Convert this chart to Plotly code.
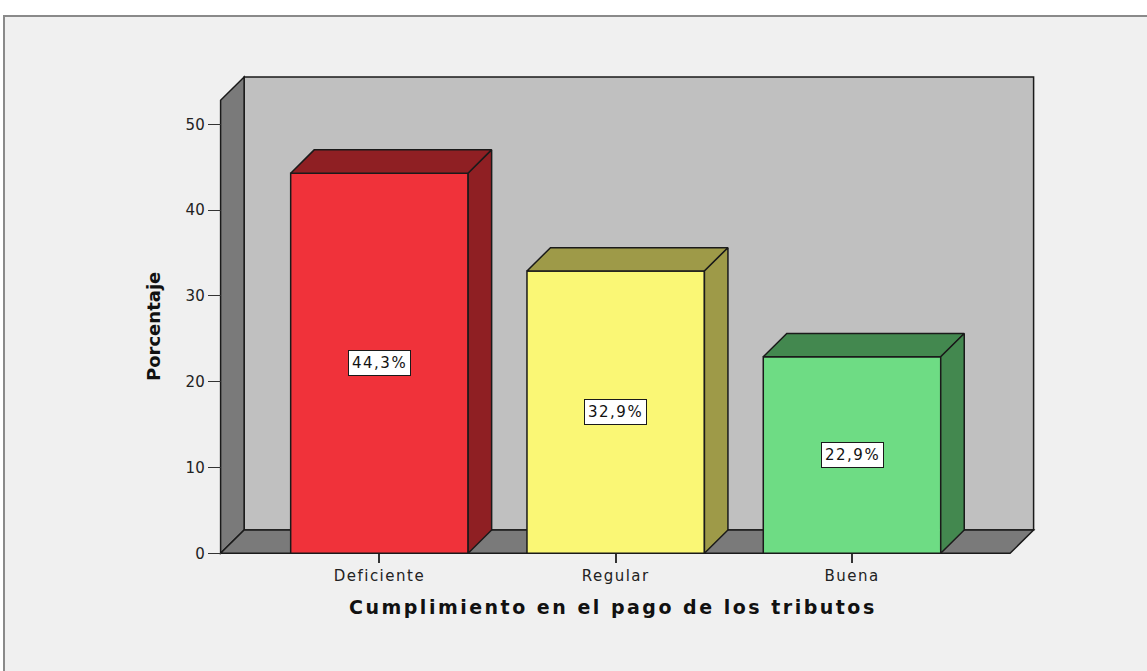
import plotly.graph_objects as go

# ---------------- data ----------------
categories = ["Deficiente", "Regular", "Buena"]
values = [44.3, 32.9, 22.9]
y_ticks = [0, 10, 20, 30, 40, 50]
front_colors = ["#F0323A", "#FAF775", "#6EDC84"]
dark_colors = ["#8F1F23", "#9E9A48", "#43884F"]
x_title = "Cumplimiento en el pago de los tributos"
y_title = "Porcentaje"

# ---------------- layout constants ----------------
W, H = 1147, 671
L, R, T, B = 190, 90, 50, 100
PX_PER_X = 236.3      # pixels per category unit
X0_PX = 379.4         # pixel of category 0
PX_PER_Y = 8.58       # pixels per percent
Y0_PX = 553.3         # pixel of 0 %

BAR_W = 0.751
DX = 0.0995           # depth offset (x units)
DY = 2.72             # depth offset (y units)
FLOOR_X0, FLOOR_X1 = -0.672, 2.669
WALL_TOP = 52.8

x_lo = (L - X0_PX) / PX_PER_X
x_hi = (W - R - X0_PX) / PX_PER_X
y_lo = (Y0_PX - (H - B)) / PX_PER_Y
y_hi = (Y0_PX - T) / PX_PER_Y


def pxx(px):
    return (px - L) / (W - L - R)


def pxy(py):
    return (H - B - py) / (H - T - B)


EDGE = "#1a1a1a"
xs = list(range(len(categories)))

fig = go.Figure()

# front faces of the bars
fig.add_trace(go.Bar(
    x=xs, y=values, width=BAR_W,
    marker=dict(color=front_colors, line=dict(color=EDGE, width=1.5)),
    hoverinfo="skip", showlegend=False,
))

# top and side faces (derived from the values)
for i, v in enumerate(values):
    xl, xr = xs[i] - BAR_W / 2, xs[i] + BAR_W / 2
    top_x = [xl, xl + DX, xr + DX, xr, xl]
    top_y = [v, v + DY, v + DY, v, v]
    side_x = [xr, xr, xr + DX, xr + DX, xr]
    side_y = [0, v, v + DY, DY, 0]
    for px_, py_ in ((top_x, top_y), (side_x, side_y)):
        fig.add_trace(go.Scatter(
            x=px_, y=py_, mode="lines", fill="toself",
            fillcolor=dark_colors[i], line=dict(color=EDGE, width=1.5),
            hoverinfo="skip", showlegend=False,
        ))

shapes = [
    # outer frame
    dict(type="rect", xref="paper", yref="paper", layer="below",
         x0=pxx(4), x1=pxx(W + 20), y0=pxy(16), y1=pxy(H + 20),
         fillcolor="#F0F0F0", line=dict(color="#8a8a8a", width=2)),
    # back wall
    dict(type="rect", xref="x", yref="y", layer="below",
         x0=FLOOR_X0 + DX, x1=FLOOR_X1 + DX, y0=DY, y1=WALL_TOP + DY,
         fillcolor="#C0C0C0", line=dict(color=EDGE, width=1.5)),
    # left wall
    dict(type="path", xref="x", yref="y", layer="below",
         path=(f"M {FLOOR_X0},0 L {FLOOR_X0},{WALL_TOP} "
               f"L {FLOOR_X0 + DX},{WALL_TOP + DY} L {FLOOR_X0 + DX},{DY} Z"),
         fillcolor="#7A7A7A", line=dict(color=EDGE, width=1.5)),
    # floor
    dict(type="path", xref="x", yref="y", layer="below",
         path=(f"M {FLOOR_X0},0 L {FLOOR_X1},0 "
               f"L {FLOOR_X1 + DX},{DY} L {FLOOR_X0 + DX},{DY} Z"),
         fillcolor="#7A7A7A", line=dict(color=EDGE, width=1.5)),
]

annotations = []
for i, v in enumerate(values):
    lab = f"{v:.1f}".replace(".", ",") + "%"
    annotations.append(dict(
        x=xs[i], y=v / 2, xref="x", yref="y", showarrow=False,
        text=f'<span style="letter-spacing:1.5px">{lab}</span>',
        bgcolor="white", bordercolor=EDGE, borderwidth=1, borderpad=3,
        font=dict(family="DejaVu Sans", size=15, color="#111"),
    ))

annotations.append(dict(
    x=pxx(613), y=pxy(607), xref="paper", yref="paper", showarrow=False,
    xanchor="center", yanchor="middle",
    text=f'<span style="letter-spacing:2.5px">{x_title}</span>',
    font=dict(family="DejaVu Sans", size=19, color="#111", weight="bold"),
))
annotations.append(dict(
    x=pxx(153), y=pxy(327), xref="paper", yref="paper", showarrow=False,
    xanchor="center", yanchor="middle", textangle=-90,
    text=y_title,
    font=dict(family="DejaVu Sans", size=18, color="#111", weight="bold"),
))

ticktext = [f'<span style="letter-spacing:1.5px">{c}</span>' for c in categories]

fig.update_layout(
    width=W, height=H,
    margin=dict(l=L, r=R, t=T, b=B, pad=0),
    paper_bgcolor="white", plot_bgcolor="rgba(0,0,0,0)",
    showlegend=False, barmode="overlay",
    shapes=shapes, annotations=annotations,
    xaxis=dict(range=[x_lo, x_hi], anchor="free", position=pxy(Y0_PX),
               tickvals=xs, ticktext=ticktext, ticks="outside", ticklen=9,
               tickwidth=2, tickcolor="#333", showgrid=False, zeroline=False,
               showline=False, fixedrange=True,
               tickfont=dict(family="DejaVu Sans", size=15, color="#222")),
    yaxis=dict(range=[y_lo, y_hi], anchor="free", position=pxx(220.7),
               tickvals=y_ticks, ticks="outside", ticklen=13, tickwidth=1,
               tickcolor="#333", showgrid=False, zeroline=False,
               showline=False, fixedrange=True,
               tickfont=dict(family="DejaVu Sans", size=15, color="#222")),
)

fig.write_html("out.html", config={"displayModeBar": False},
               post_script="document.body.style.margin='0';")
